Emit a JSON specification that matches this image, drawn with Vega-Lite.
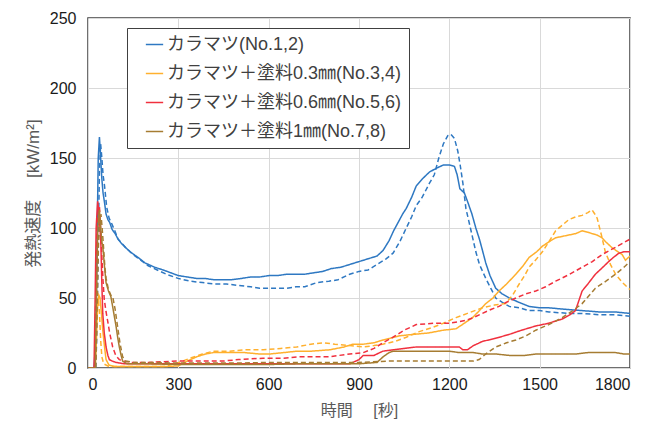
{
"$schema": "https://vega.github.io/schema/vega-lite/v6.json",
"width": 542, "height": 350,
"autosize": {"type": "none"},
"padding": {"left": 88, "top": 18, "right": 35, "bottom": 60},
"background": "white",
"config": {
  "font": "Liberation Sans, Noto Sans CJK JP",
  "view": {"stroke": "#404040", "strokeWidth": 1.5},
  "axis": {"domain": false, "ticks": false, "grid": true, "gridColor": "#d9d9d9", "gridWidth": 1, "labelFontSize": 16, "labelColor": "#1a1a1a", "titleFontSize": 16, "titleColor": "#595959", "titleFontWeight": "normal", "labelFont": "Liberation Sans", "titleFont": "Liberation Sans, Noto Sans CJK JP"}
},
"data": {"values": [
{"m":"1","d":"a","t":0,"v":0},{"m":"1","d":"a","t":20,"v":0},{"m":"1","d":"a","t":26,"v":20},{"m":"1","d":"a","t":30,"v":90},{"m":"1","d":"a","t":34,"v":150},{"m":"1","d":"a","t":38,"v":165},{"m":"1","d":"a","t":42,"v":150},{"m":"1","d":"a","t":46,"v":135},{"m":"1","d":"a","t":50,"v":125},{"m":"1","d":"a","t":55,"v":118},{"m":"1","d":"a","t":60,"v":110},{"m":"1","d":"a","t":66,"v":106},{"m":"1","d":"a","t":72,"v":104},{"m":"1","d":"a","t":80,"v":99},{"m":"1","d":"a","t":90,"v":96},{"m":"1","d":"a","t":100,"v":92},{"m":"1","d":"a","t":111,"v":89},{"m":"1","d":"a","t":125,"v":86},{"m":"1","d":"a","t":140,"v":83},{"m":"1","d":"a","t":166,"v":79},{"m":"1","d":"a","t":190,"v":75},{"m":"1","d":"a","t":221,"v":72},{"m":"1","d":"a","t":250,"v":70},{"m":"1","d":"a","t":275,"v":68},{"m":"1","d":"a","t":300,"v":66},{"m":"1","d":"a","t":330,"v":65},{"m":"1","d":"a","t":360,"v":64},{"m":"1","d":"a","t":387,"v":64},{"m":"1","d":"a","t":420,"v":63},{"m":"1","d":"a","t":450,"v":63},{"m":"1","d":"a","t":476,"v":63},{"m":"1","d":"a","t":510,"v":64},{"m":"1","d":"a","t":540,"v":65},{"m":"1","d":"a","t":570,"v":65},{"m":"1","d":"a","t":601,"v":66},{"m":"1","d":"a","t":630,"v":66},{"m":"1","d":"a","t":660,"v":67},{"m":"1","d":"a","t":690,"v":67},{"m":"1","d":"a","t":720,"v":67},{"m":"1","d":"a","t":750,"v":68},{"m":"1","d":"a","t":780,"v":69},{"m":"1","d":"a","t":808,"v":71},{"m":"1","d":"a","t":840,"v":72},{"m":"1","d":"a","t":870,"v":74},{"m":"1","d":"a","t":900,"v":76},{"m":"1","d":"a","t":930,"v":78},{"m":"1","d":"a","t":960,"v":80},{"m":"1","d":"a","t":980,"v":84},{"m":"1","d":"a","t":1000,"v":91},{"m":"1","d":"a","t":1015,"v":98},{"m":"1","d":"a","t":1030,"v":104},{"m":"1","d":"a","t":1045,"v":110},{"m":"1","d":"a","t":1057,"v":114},{"m":"1","d":"a","t":1075,"v":122},{"m":"1","d":"a","t":1090,"v":130},{"m":"1","d":"a","t":1110,"v":135},{"m":"1","d":"a","t":1134,"v":140},{"m":"1","d":"a","t":1160,"v":143},{"m":"1","d":"a","t":1180,"v":145},{"m":"1","d":"a","t":1200,"v":145},{"m":"1","d":"a","t":1217,"v":144},{"m":"1","d":"a","t":1226,"v":138},{"m":"1","d":"a","t":1235,"v":128},{"m":"1","d":"a","t":1250,"v":125},{"m":"1","d":"a","t":1262,"v":118},{"m":"1","d":"a","t":1275,"v":110},{"m":"1","d":"a","t":1288,"v":100},{"m":"1","d":"a","t":1300,"v":92},{"m":"1","d":"a","t":1310,"v":84},{"m":"1","d":"a","t":1321,"v":75},{"m":"1","d":"a","t":1335,"v":66},{"m":"1","d":"a","t":1354,"v":57},{"m":"1","d":"a","t":1375,"v":53},{"m":"1","d":"a","t":1399,"v":50},{"m":"1","d":"a","t":1430,"v":47},{"m":"1","d":"a","t":1465,"v":44},{"m":"1","d":"a","t":1500,"v":43},{"m":"1","d":"a","t":1531,"v":43},{"m":"1","d":"a","t":1580,"v":42},{"m":"1","d":"a","t":1641,"v":41},{"m":"1","d":"a","t":1700,"v":40},{"m":"1","d":"a","t":1752,"v":40},{"m":"1","d":"a","t":1800,"v":39},
{"m":"1","d":"b","t":0,"v":0},{"m":"1","d":"b","t":26,"v":0},{"m":"1","d":"b","t":30,"v":30},{"m":"1","d":"b","t":34,"v":90},{"m":"1","d":"b","t":38,"v":140},{"m":"1","d":"b","t":42,"v":160},{"m":"1","d":"b","t":46,"v":150},{"m":"1","d":"b","t":50,"v":138},{"m":"1","d":"b","t":55,"v":130},{"m":"1","d":"b","t":62,"v":115},{"m":"1","d":"b","t":70,"v":107},{"m":"1","d":"b","t":77,"v":104},{"m":"1","d":"b","t":89,"v":98},{"m":"1","d":"b","t":100,"v":92},{"m":"1","d":"b","t":125,"v":86},{"m":"1","d":"b","t":150,"v":81},{"m":"1","d":"b","t":175,"v":77},{"m":"1","d":"b","t":200,"v":73},{"m":"1","d":"b","t":230,"v":70},{"m":"1","d":"b","t":260,"v":67},{"m":"1","d":"b","t":299,"v":64},{"m":"1","d":"b","t":340,"v":62},{"m":"1","d":"b","t":380,"v":61},{"m":"1","d":"b","t":421,"v":60},{"m":"1","d":"b","t":460,"v":60},{"m":"1","d":"b","t":500,"v":59},{"m":"1","d":"b","t":540,"v":58},{"m":"1","d":"b","t":570,"v":57},{"m":"1","d":"b","t":598,"v":57},{"m":"1","d":"b","t":630,"v":57},{"m":"1","d":"b","t":660,"v":57},{"m":"1","d":"b","t":690,"v":58},{"m":"1","d":"b","t":720,"v":58},{"m":"1","d":"b","t":760,"v":61},{"m":"1","d":"b","t":800,"v":62},{"m":"1","d":"b","t":830,"v":63},{"m":"1","d":"b","t":869,"v":67},{"m":"1","d":"b","t":900,"v":69},{"m":"1","d":"b","t":930,"v":70},{"m":"1","d":"b","t":960,"v":74},{"m":"1","d":"b","t":990,"v":78},{"m":"1","d":"b","t":1013,"v":82},{"m":"1","d":"b","t":1035,"v":90},{"m":"1","d":"b","t":1057,"v":100},{"m":"1","d":"b","t":1075,"v":108},{"m":"1","d":"b","t":1090,"v":116},{"m":"1","d":"b","t":1110,"v":122},{"m":"1","d":"b","t":1134,"v":132},{"m":"1","d":"b","t":1150,"v":138},{"m":"1","d":"b","t":1165,"v":150},{"m":"1","d":"b","t":1180,"v":160},{"m":"1","d":"b","t":1195,"v":166},{"m":"1","d":"b","t":1205,"v":167},{"m":"1","d":"b","t":1217,"v":164},{"m":"1","d":"b","t":1228,"v":155},{"m":"1","d":"b","t":1236,"v":145},{"m":"1","d":"b","t":1245,"v":132},{"m":"1","d":"b","t":1255,"v":114},{"m":"1","d":"b","t":1270,"v":100},{"m":"1","d":"b","t":1288,"v":83},{"m":"1","d":"b","t":1300,"v":74},{"m":"1","d":"b","t":1321,"v":64},{"m":"1","d":"b","t":1340,"v":56},{"m":"1","d":"b","t":1354,"v":50},{"m":"1","d":"b","t":1375,"v":47},{"m":"1","d":"b","t":1399,"v":44},{"m":"1","d":"b","t":1432,"v":43},{"m":"1","d":"b","t":1465,"v":41},{"m":"1","d":"b","t":1500,"v":41},{"m":"1","d":"b","t":1531,"v":40},{"m":"1","d":"b","t":1600,"v":39},{"m":"1","d":"b","t":1641,"v":39},{"m":"1","d":"b","t":1700,"v":38},{"m":"1","d":"b","t":1750,"v":38},{"m":"1","d":"b","t":1800,"v":37},
{"m":"2","d":"a","t":0,"v":0},{"m":"2","d":"a","t":24,"v":0},{"m":"2","d":"a","t":28,"v":20},{"m":"2","d":"a","t":32,"v":45},{"m":"2","d":"a","t":36,"v":52},{"m":"2","d":"a","t":40,"v":50},{"m":"2","d":"a","t":45,"v":38},{"m":"2","d":"a","t":49,"v":27},{"m":"2","d":"a","t":55,"v":15},{"m":"2","d":"a","t":60,"v":6},{"m":"2","d":"a","t":70,"v":2},{"m":"2","d":"a","t":90,"v":1},{"m":"2","d":"a","t":150,"v":1},{"m":"2","d":"a","t":200,"v":1},{"m":"2","d":"a","t":250,"v":1},{"m":"2","d":"a","t":300,"v":1.5},{"m":"2","d":"a","t":330,"v":5},{"m":"2","d":"a","t":361,"v":8},{"m":"2","d":"a","t":390,"v":10},{"m":"2","d":"a","t":416,"v":11},{"m":"2","d":"a","t":450,"v":11},{"m":"2","d":"a","t":471,"v":11},{"m":"2","d":"a","t":520,"v":11},{"m":"2","d":"a","t":570,"v":10},{"m":"2","d":"a","t":604,"v":10},{"m":"2","d":"a","t":650,"v":11},{"m":"2","d":"a","t":693,"v":12},{"m":"2","d":"a","t":740,"v":12},{"m":"2","d":"a","t":803,"v":13},{"m":"2","d":"a","t":850,"v":15},{"m":"2","d":"a","t":880,"v":17},{"m":"2","d":"a","t":914,"v":17},{"m":"2","d":"a","t":950,"v":18},{"m":"2","d":"a","t":979,"v":20},{"m":"2","d":"a","t":1000,"v":21},{"m":"2","d":"a","t":1035,"v":23},{"m":"2","d":"a","t":1080,"v":24},{"m":"2","d":"a","t":1130,"v":25},{"m":"2","d":"a","t":1180,"v":27},{"m":"2","d":"a","t":1222,"v":28},{"m":"2","d":"a","t":1250,"v":32},{"m":"2","d":"a","t":1277,"v":36},{"m":"2","d":"a","t":1300,"v":41},{"m":"2","d":"a","t":1321,"v":46},{"m":"2","d":"a","t":1345,"v":50},{"m":"2","d":"a","t":1365,"v":55},{"m":"2","d":"a","t":1390,"v":60},{"m":"2","d":"a","t":1421,"v":67},{"m":"2","d":"a","t":1445,"v":73},{"m":"2","d":"a","t":1465,"v":79},{"m":"2","d":"a","t":1490,"v":83},{"m":"2","d":"a","t":1509,"v":87},{"m":"2","d":"a","t":1530,"v":90},{"m":"2","d":"a","t":1553,"v":93},{"m":"2","d":"a","t":1575,"v":94},{"m":"2","d":"a","t":1597,"v":95},{"m":"2","d":"a","t":1620,"v":96},{"m":"2","d":"a","t":1641,"v":98},{"m":"2","d":"a","t":1660,"v":97},{"m":"2","d":"a","t":1674,"v":96},{"m":"2","d":"a","t":1690,"v":95},{"m":"2","d":"a","t":1707,"v":93},{"m":"2","d":"a","t":1720,"v":90},{"m":"2","d":"a","t":1740,"v":86},{"m":"2","d":"a","t":1760,"v":83},{"m":"2","d":"a","t":1774,"v":81},{"m":"2","d":"a","t":1785,"v":77},{"m":"2","d":"a","t":1800,"v":80},
{"m":"2","d":"b","t":0,"v":0},{"m":"2","d":"b","t":22,"v":0},{"m":"2","d":"b","t":26,"v":25},{"m":"2","d":"b","t":30,"v":48},{"m":"2","d":"b","t":34,"v":50},{"m":"2","d":"b","t":38,"v":40},{"m":"2","d":"b","t":42,"v":20},{"m":"2","d":"b","t":46,"v":8},{"m":"2","d":"b","t":52,"v":3},{"m":"2","d":"b","t":70,"v":1},{"m":"2","d":"b","t":150,"v":1},{"m":"2","d":"b","t":250,"v":1},{"m":"2","d":"b","t":300,"v":3.8},{"m":"2","d":"b","t":339,"v":7},{"m":"2","d":"b","t":380,"v":10},{"m":"2","d":"b","t":416,"v":12},{"m":"2","d":"b","t":470,"v":12},{"m":"2","d":"b","t":520,"v":13},{"m":"2","d":"b","t":582,"v":13},{"m":"2","d":"b","t":640,"v":14},{"m":"2","d":"b","t":693,"v":15},{"m":"2","d":"b","t":740,"v":17},{"m":"2","d":"b","t":781,"v":18},{"m":"2","d":"b","t":820,"v":17},{"m":"2","d":"b","t":869,"v":16},{"m":"2","d":"b","t":914,"v":15},{"m":"2","d":"b","t":950,"v":16},{"m":"2","d":"b","t":979,"v":17},{"m":"2","d":"b","t":1020,"v":19},{"m":"2","d":"b","t":1057,"v":22},{"m":"2","d":"b","t":1100,"v":26},{"m":"2","d":"b","t":1145,"v":29},{"m":"2","d":"b","t":1180,"v":32},{"m":"2","d":"b","t":1222,"v":36},{"m":"2","d":"b","t":1260,"v":39},{"m":"2","d":"b","t":1310,"v":43},{"m":"2","d":"b","t":1350,"v":45},{"m":"2","d":"b","t":1387,"v":46},{"m":"2","d":"b","t":1410,"v":52},{"m":"2","d":"b","t":1432,"v":60},{"m":"2","d":"b","t":1450,"v":66},{"m":"2","d":"b","t":1465,"v":72},{"m":"2","d":"b","t":1490,"v":78},{"m":"2","d":"b","t":1509,"v":83},{"m":"2","d":"b","t":1530,"v":90},{"m":"2","d":"b","t":1553,"v":98},{"m":"2","d":"b","t":1575,"v":102},{"m":"2","d":"b","t":1597,"v":106},{"m":"2","d":"b","t":1620,"v":108},{"m":"2","d":"b","t":1641,"v":109},{"m":"2","d":"b","t":1660,"v":111},{"m":"2","d":"b","t":1674,"v":113},{"m":"2","d":"b","t":1683,"v":110},{"m":"2","d":"b","t":1691,"v":107},{"m":"2","d":"b","t":1705,"v":95},{"m":"2","d":"b","t":1718,"v":83},{"m":"2","d":"b","t":1735,"v":74},{"m":"2","d":"b","t":1752,"v":67},{"m":"2","d":"b","t":1775,"v":61},{"m":"2","d":"b","t":1800,"v":56},
{"m":"3","d":"a","t":0,"v":0},{"m":"3","d":"a","t":20,"v":0},{"m":"3","d":"a","t":23,"v":40},{"m":"3","d":"a","t":27,"v":100},{"m":"3","d":"a","t":32,"v":119},{"m":"3","d":"a","t":36,"v":112},{"m":"3","d":"a","t":40,"v":100},{"m":"3","d":"a","t":43,"v":87},{"m":"3","d":"a","t":46,"v":60},{"m":"3","d":"a","t":49,"v":39},{"m":"3","d":"a","t":54,"v":25},{"m":"3","d":"a","t":60,"v":15},{"m":"3","d":"a","t":66,"v":9},{"m":"3","d":"a","t":71,"v":6},{"m":"3","d":"a","t":80,"v":5},{"m":"3","d":"a","t":93,"v":4},{"m":"3","d":"a","t":120,"v":3},{"m":"3","d":"a","t":200,"v":3},{"m":"3","d":"a","t":300,"v":3},{"m":"3","d":"a","t":400,"v":3},{"m":"3","d":"a","t":500,"v":3},{"m":"3","d":"a","t":600,"v":3},{"m":"3","d":"a","t":700,"v":3},{"m":"3","d":"a","t":800,"v":3},{"m":"3","d":"a","t":870,"v":3},{"m":"3","d":"a","t":900,"v":6},{"m":"3","d":"a","t":914,"v":9},{"m":"3","d":"a","t":950,"v":9},{"m":"3","d":"a","t":979,"v":12},{"m":"3","d":"a","t":1013,"v":13},{"m":"3","d":"a","t":1050,"v":14},{"m":"3","d":"a","t":1090,"v":15},{"m":"3","d":"a","t":1150,"v":15},{"m":"3","d":"a","t":1200,"v":15},{"m":"3","d":"a","t":1233,"v":15},{"m":"3","d":"a","t":1245,"v":13},{"m":"3","d":"a","t":1260,"v":13},{"m":"3","d":"a","t":1280,"v":16},{"m":"3","d":"a","t":1310,"v":19},{"m":"3","d":"a","t":1350,"v":21},{"m":"3","d":"a","t":1399,"v":24},{"m":"3","d":"a","t":1440,"v":27},{"m":"3","d":"a","t":1487,"v":30},{"m":"3","d":"a","t":1530,"v":32},{"m":"3","d":"a","t":1575,"v":35},{"m":"3","d":"a","t":1600,"v":38},{"m":"3","d":"a","t":1619,"v":41},{"m":"3","d":"a","t":1630,"v":48},{"m":"3","d":"a","t":1641,"v":55},{"m":"3","d":"a","t":1660,"v":60},{"m":"3","d":"a","t":1685,"v":67},{"m":"3","d":"a","t":1705,"v":71},{"m":"3","d":"a","t":1729,"v":76},{"m":"3","d":"a","t":1745,"v":79},{"m":"3","d":"a","t":1763,"v":82},{"m":"3","d":"a","t":1780,"v":83},{"m":"3","d":"a","t":1800,"v":83},
{"m":"3","d":"b","t":0,"v":0},{"m":"3","d":"b","t":22,"v":0},{"m":"3","d":"b","t":26,"v":50},{"m":"3","d":"b","t":30,"v":100},{"m":"3","d":"b","t":34,"v":112},{"m":"3","d":"b","t":38,"v":115},{"m":"3","d":"b","t":42,"v":100},{"m":"3","d":"b","t":46,"v":80},{"m":"3","d":"b","t":50,"v":62},{"m":"3","d":"b","t":54,"v":49},{"m":"3","d":"b","t":60,"v":40},{"m":"3","d":"b","t":65,"v":34},{"m":"3","d":"b","t":72,"v":25},{"m":"3","d":"b","t":82,"v":15},{"m":"3","d":"b","t":92,"v":9},{"m":"3","d":"b","t":104,"v":6},{"m":"3","d":"b","t":120,"v":5},{"m":"3","d":"b","t":139,"v":4},{"m":"3","d":"b","t":200,"v":4},{"m":"3","d":"b","t":300,"v":5},{"m":"3","d":"b","t":361,"v":5},{"m":"3","d":"b","t":450,"v":5},{"m":"3","d":"b","t":500,"v":6},{"m":"3","d":"b","t":582,"v":7},{"m":"3","d":"b","t":650,"v":7},{"m":"3","d":"b","t":700,"v":8},{"m":"3","d":"b","t":800,"v":8},{"m":"3","d":"b","t":869,"v":10},{"m":"3","d":"b","t":914,"v":11},{"m":"3","d":"b","t":950,"v":14},{"m":"3","d":"b","t":979,"v":18},{"m":"3","d":"b","t":1013,"v":22},{"m":"3","d":"b","t":1050,"v":27},{"m":"3","d":"b","t":1090,"v":31},{"m":"3","d":"b","t":1150,"v":32},{"m":"3","d":"b","t":1200,"v":32},{"m":"3","d":"b","t":1255,"v":34},{"m":"3","d":"b","t":1280,"v":36},{"m":"3","d":"b","t":1310,"v":39},{"m":"3","d":"b","t":1340,"v":42},{"m":"3","d":"b","t":1365,"v":44},{"m":"3","d":"b","t":1390,"v":47},{"m":"3","d":"b","t":1421,"v":50},{"m":"3","d":"b","t":1455,"v":53},{"m":"3","d":"b","t":1487,"v":55},{"m":"3","d":"b","t":1520,"v":58},{"m":"3","d":"b","t":1553,"v":62},{"m":"3","d":"b","t":1600,"v":67},{"m":"3","d":"b","t":1641,"v":72},{"m":"3","d":"b","t":1675,"v":76},{"m":"3","d":"b","t":1707,"v":81},{"m":"3","d":"b","t":1750,"v":86},{"m":"3","d":"b","t":1800,"v":92},
{"m":"4","d":"a","t":0,"v":0},{"m":"4","d":"a","t":24,"v":0},{"m":"4","d":"a","t":28,"v":50},{"m":"4","d":"a","t":32,"v":95},{"m":"4","d":"a","t":36,"v":110},{"m":"4","d":"a","t":38,"v":113},{"m":"4","d":"a","t":42,"v":100},{"m":"4","d":"a","t":46,"v":90},{"m":"4","d":"a","t":49,"v":87},{"m":"4","d":"a","t":55,"v":72},{"m":"4","d":"a","t":60,"v":61},{"m":"4","d":"a","t":68,"v":55},{"m":"4","d":"a","t":76,"v":51},{"m":"4","d":"a","t":85,"v":40},{"m":"4","d":"a","t":93,"v":30},{"m":"4","d":"a","t":100,"v":20},{"m":"4","d":"a","t":104,"v":15},{"m":"4","d":"a","t":110,"v":9},{"m":"4","d":"a","t":115,"v":5},{"m":"4","d":"a","t":130,"v":3},{"m":"4","d":"a","t":200,"v":3},{"m":"4","d":"a","t":300,"v":2.5},{"m":"4","d":"a","t":400,"v":2.5},{"m":"4","d":"a","t":500,"v":2.5},{"m":"4","d":"a","t":600,"v":2.5},{"m":"4","d":"a","t":700,"v":3},{"m":"4","d":"a","t":800,"v":3},{"m":"4","d":"a","t":900,"v":3},{"m":"4","d":"a","t":960,"v":4},{"m":"4","d":"a","t":980,"v":8},{"m":"4","d":"a","t":1000,"v":11},{"m":"4","d":"a","t":1013,"v":12},{"m":"4","d":"a","t":1050,"v":12},{"m":"4","d":"a","t":1090,"v":12},{"m":"4","d":"a","t":1150,"v":12},{"m":"4","d":"a","t":1200,"v":12},{"m":"4","d":"a","t":1233,"v":11},{"m":"4","d":"a","t":1280,"v":11},{"m":"4","d":"a","t":1310,"v":10},{"m":"4","d":"a","t":1354,"v":10},{"m":"4","d":"a","t":1399,"v":9},{"m":"4","d":"a","t":1450,"v":9},{"m":"4","d":"a","t":1487,"v":10},{"m":"4","d":"a","t":1530,"v":10},{"m":"4","d":"a","t":1575,"v":10},{"m":"4","d":"a","t":1620,"v":10},{"m":"4","d":"a","t":1660,"v":11},{"m":"4","d":"a","t":1707,"v":11},{"m":"4","d":"a","t":1752,"v":11},{"m":"4","d":"a","t":1780,"v":10},{"m":"4","d":"a","t":1800,"v":10},
{"m":"4","d":"b","t":0,"v":0},{"m":"4","d":"b","t":26,"v":0},{"m":"4","d":"b","t":30,"v":40},{"m":"4","d":"b","t":35,"v":90},{"m":"4","d":"b","t":40,"v":105},{"m":"4","d":"b","t":43,"v":110},{"m":"4","d":"b","t":47,"v":100},{"m":"4","d":"b","t":52,"v":85},{"m":"4","d":"b","t":56,"v":72},{"m":"4","d":"b","t":60,"v":64},{"m":"4","d":"b","t":68,"v":56},{"m":"4","d":"b","t":76,"v":52},{"m":"4","d":"b","t":82,"v":51},{"m":"4","d":"b","t":90,"v":42},{"m":"4","d":"b","t":98,"v":30},{"m":"4","d":"b","t":106,"v":18},{"m":"4","d":"b","t":115,"v":8},{"m":"4","d":"b","t":125,"v":5},{"m":"4","d":"b","t":150,"v":4},{"m":"4","d":"b","t":200,"v":4},{"m":"4","d":"b","t":300,"v":3.5},{"m":"4","d":"b","t":400,"v":3.5},{"m":"4","d":"b","t":500,"v":3.5},{"m":"4","d":"b","t":600,"v":4},{"m":"4","d":"b","t":700,"v":4},{"m":"4","d":"b","t":800,"v":4},{"m":"4","d":"b","t":900,"v":4},{"m":"4","d":"b","t":1000,"v":5},{"m":"4","d":"b","t":1100,"v":5},{"m":"4","d":"b","t":1200,"v":5},{"m":"4","d":"b","t":1280,"v":5},{"m":"4","d":"b","t":1299,"v":6},{"m":"4","d":"b","t":1321,"v":10},{"m":"4","d":"b","t":1354,"v":15},{"m":"4","d":"b","t":1390,"v":18},{"m":"4","d":"b","t":1421,"v":20},{"m":"4","d":"b","t":1455,"v":23},{"m":"4","d":"b","t":1487,"v":27},{"m":"4","d":"b","t":1530,"v":31},{"m":"4","d":"b","t":1575,"v":36},{"m":"4","d":"b","t":1610,"v":41},{"m":"4","d":"b","t":1641,"v":46},{"m":"4","d":"b","t":1665,"v":52},{"m":"4","d":"b","t":1685,"v":57},{"m":"4","d":"b","t":1720,"v":62},{"m":"4","d":"b","t":1752,"v":67},{"m":"4","d":"b","t":1780,"v":72},{"m":"4","d":"b","t":1800,"v":76}
]},
"mark": {"type": "line", "strokeWidth": 1.5, "clip": true},
"encoding": {
  "x": {"field": "t", "type": "quantitative", "scale": {"domain": [0, 1800], "nice": false, "zero": true},
        "axis": {"values": [0, 300, 600, 900, 1200, 1500, 1800], "format": "d", "title": "時間　  [秒]", "labelPadding": 8, "titlePadding": 10}},
  "y": {"field": "v", "type": "quantitative", "scale": {"domain": [0, 250], "nice": false},
        "axis": {"values": [0, 50, 100, 150, 200, 250], "format": "d", "title": "発熱速度　 [kW/m²]", "titleFontSize": 17, "labelPadding": 12, "titlePadding": 7}},
  "color": {"field": "m", "type": "nominal",
    "scale": {"domain": ["1", "2", "3", "4"], "range": ["#2E78C2", "#FFB02E", "#F0303E", "#A67C32"]},
    "legend": {"title": null, "orient": "none", "legendX": 39, "legendY": 10,
      "strokeColor": "#404040", "fillColor": "white", "padding": 7, "rowPadding": 10,
      "labelFontSize": 18, "labelColor": "#404040", "labelFont": "Liberation Sans, Noto Sans CJK JP", "labelLimit": 400,
      "symbolType": "stroke", "symbolStrokeWidth": 1.5, "symbolSize": 300, "symbolOffset": 11, "labelOffset": 3,
      "labelExpr": "datum.label == '1' ? 'カラマツ(No.1,2)' : datum.label == '2' ? 'カラマツ＋塗料0.3㎜(No.3,4)' : datum.label == '3' ? 'カラマツ＋塗料0.6㎜(No.5,6)' : 'カラマツ＋塗料1㎜(No.7,8)'"}},
  "strokeDash": {"field": "d", "type": "nominal", "scale": {"domain": ["a", "b"], "range": [[1, 0], [5, 3]]}, "legend": null}
}
}
